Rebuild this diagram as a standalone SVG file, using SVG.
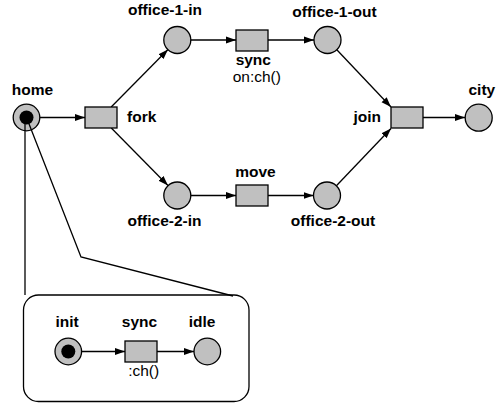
<svg xmlns="http://www.w3.org/2000/svg" width="496" height="404" viewBox="0 0 496 404">
  <style>
    .place { fill: #c0c0c0; stroke: #000; stroke-width: 1.3; }
    .trans { fill: #c0c0c0; stroke: #000; stroke-width: 1.3; }
    .token { fill: #000; }
    .arc { fill: none; stroke: #000; stroke-width: 1.3; marker-end: url(#arrow); }
    .link { fill: none; stroke: #000; stroke-width: 1.3; }
    .lbl { font-family: "Liberation Sans", Arial, sans-serif; font-size: 15.5px; font-weight: bold; fill: #000; }
    .sub { font-family: "Liberation Sans", Arial, sans-serif; font-size: 15.5px; fill: #000; }
  </style>
  <defs>
    <marker id="arrow" markerUnits="userSpaceOnUse" markerWidth="10" markerHeight="8" refX="10" refY="4" orient="auto">
      <path d="M0,0.5 L10,4 L0,7.5 z" fill="#000"/>
    </marker>
  </defs>

  <rect width="496" height="404" fill="#fff"/>

  <!-- links from home to its refinement box -->
  <g id="refinement-links">
    <line class="link" x1="25" y1="118" x2="25" y2="295"/>
    <polyline class="link" points="26.5,117.5 81,257 233,296"/>
  </g>

  <!-- refinement box -->
  <g id="detail-box">
    <rect x="23.5" y="295" width="225.5" height="106.5" rx="15" ry="15" fill="none" stroke="#000" stroke-width="1.3"/>
  </g>

  <!-- connectors -->
  <g id="connectors">
    <line class="arc" x1="40" y1="117.5" x2="85" y2="117.5"/>
    <line class="arc" x1="111.2" y1="107" x2="168" y2="49.5"/>
    <line class="arc" x1="111.3" y1="128" x2="168" y2="185.5"/>
    <line class="arc" x1="190.5" y1="40" x2="236" y2="40"/>
    <line class="arc" x1="268" y1="40" x2="314" y2="40"/>
    <line class="arc" x1="336.8" y1="49.8" x2="391" y2="107"/>
    <line class="arc" x1="190.5" y1="195.5" x2="236" y2="195.5"/>
    <line class="arc" x1="268" y1="195.5" x2="313.5" y2="195.5"/>
    <line class="arc" x1="336.4" y1="185.8" x2="391" y2="128.5"/>
    <line class="arc" x1="423" y1="117.5" x2="465" y2="117.5"/>
    <line class="arc" x1="81.5" y1="351.5" x2="125" y2="351.5"/>
    <line class="arc" x1="157" y1="351.5" x2="194" y2="351.5"/>
  </g>

  <!-- outer net -->
  <g id="home">
    <circle class="place" cx="26.5" cy="117.5" r="13.3"/>
    <circle class="token" cx="26.5" cy="117.5" r="7"/>
    <line class="link" x1="25" y1="118" x2="25" y2="131"/>
    <line class="link" x1="26.5" y1="117.5" x2="31.6" y2="130.6"/>
    <text class="lbl" x="32.5" y="95" text-anchor="middle">home</text>
  </g>

  <g id="fork">
    <rect class="trans" x="85" y="107" width="32" height="21"/>
    <text class="lbl" x="127" y="122">fork</text>
  </g>

  <g id="office-1-in">
    <circle class="place" cx="177.3" cy="40" r="13.5"/>
    <text class="lbl" x="165" y="15" text-anchor="middle">office-1-in</text>
  </g>

  <g id="sync">
    <rect class="trans" x="236" y="30" width="32" height="21"/>
    <text class="lbl" x="253.3" y="65" text-anchor="middle">sync</text>
    <text class="sub" x="256.8" y="82" text-anchor="middle">on:ch()</text>
  </g>

  <g id="office-1-out">
    <circle class="place" cx="327.5" cy="40" r="13.5"/>
    <text class="lbl" x="334.5" y="17" text-anchor="middle">office-1-out</text>
  </g>

  <g id="office-2-in">
    <circle class="place" cx="177.3" cy="195.5" r="13.5"/>
    <text class="lbl" x="164.5" y="226" text-anchor="middle">office-2-in</text>
  </g>

  <g id="move">
    <rect class="trans" x="236" y="185" width="32" height="21"/>
    <text class="lbl" x="255.5" y="177" text-anchor="middle">move</text>
  </g>

  <g id="office-2-out">
    <circle class="place" cx="327" cy="195.5" r="13.5"/>
    <text class="lbl" x="333" y="226" text-anchor="middle">office-2-out</text>
  </g>

  <g id="join">
    <rect class="trans" x="391" y="107" width="32" height="21"/>
    <text class="lbl" x="381" y="122" text-anchor="end">join</text>
  </g>

  <g id="city">
    <circle class="place" cx="478.7" cy="117.7" r="13.5"/>
    <text class="lbl" x="468.5" y="95">city</text>
  </g>

  <!-- inner net -->
  <g id="init">
    <circle class="place" cx="68.3" cy="351.5" r="13.3"/>
    <circle class="token" cx="68.3" cy="351.5" r="7"/>
    <text class="lbl" x="67" y="326.5" text-anchor="middle">init</text>
  </g>

  <g id="inner-sync">
    <rect class="trans" x="125" y="341" width="32" height="21"/>
    <text class="lbl" x="139.5" y="326.5" text-anchor="middle">sync</text>
    <text class="sub" x="143.7" y="376" text-anchor="middle">:ch()</text>
  </g>

  <g id="idle">
    <circle class="place" cx="207.3" cy="351.5" r="13.3"/>
    <text class="lbl" x="202" y="326.5" text-anchor="middle">idle</text>
  </g>
</svg>
